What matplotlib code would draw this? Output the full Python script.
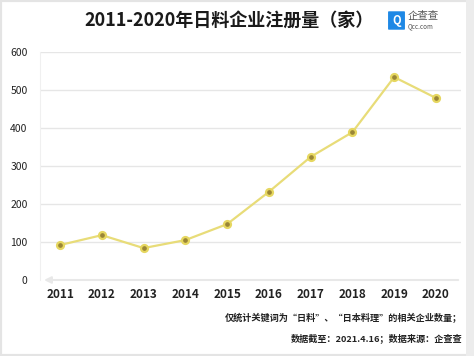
import matplotlib.pyplot as plt
from matplotlib.patches import FancyBboxPatch, Rectangle

plt.rcParams['font.family'] = ['Noto Sans CJK SC', 'DejaVu Sans']

# 数据
years = [2011, 2012, 2013, 2014, 2015, 2016, 2017, 2018, 2019, 2020]
counts = [92, 118, 84, 105, 147, 232, 324, 389, 534, 479]
yticks = [0, 100, 200, 300, 400, 500, 600]

W, H = 474, 356
fig = plt.figure(figsize=(W / 100, H / 100), dpi=100)
fig.patch.set_facecolor('white')

# 外框
fig.add_artist(Rectangle((0, 0), 1, 1, transform=fig.transFigure, fill=False,
                         edgecolor='#e4e4e4', linewidth=3))
fig.add_artist(Rectangle((466 / W, 0), 8 / W, 1, transform=fig.transFigure,
                         facecolor='#ececec', edgecolor='none'))

ax = fig.add_axes([40 / W, 76 / H, (461 - 40) / W, (280 - 52) / H])
ax.set_xlim(2010.52, 2020.6)
ax.set_ylim(0, 600)

for y in yticks[1:]:
    ax.axhline(y, color='#e6e6e6', linewidth=1, zorder=0)
ax.annotate('', xy=(2010.55, 0), xytext=(2020.6, 0),
            arrowprops=dict(arrowstyle='-|>', color='#e8e8e8', lw=1.5,
                            mutation_scale=10), zorder=0)

ax.plot(years, counts, color='#e8dc78', linewidth=1.6, marker='o',
        markersize=5, markerfacecolor='#9a8636', markeredgecolor='#e6d760',
        markeredgewidth=1.6, zorder=3)

for s in ['top', 'right', 'bottom']:
    ax.spines[s].set_visible(False)
ax.spines['left'].set_color('#f0f0f0')
ax.set_xticks(years)
ax.set_xticklabels([str(y) for y in years], fontsize=8.5, fontweight='bold',
                   color='#222222')
ax.set_yticks(yticks)
ax.set_yticklabels([str(y) for y in yticks], fontsize=7.5, color='#222222')
ax.tick_params(length=0, pad=6)
ax.tick_params(axis='y', pad=9)

# 标题
fig.text(229 / W, 1 - 20 / H, '2011-2020年日料企业注册量（家）', ha='center',
         va='center', fontsize=13, fontweight='bold', color='#1a1a1a')

# 企查查 标志
fig.add_artist(FancyBboxPatch((389 / W, 1 - 29 / H), 15 / W, 17 / H,
                              boxstyle='round,pad=0.002', transform=fig.transFigure,
                              facecolor='#1e88e5', edgecolor='none'))
fig.text(396.5 / W, 1 - 20.5 / H, 'Q', ha='center', va='center', fontsize=8,
         fontweight='bold', color='white')
fig.text(408 / W, 1 - 16 / H, '企查查', ha='left', va='center', fontsize=7.5,
         color='#555555')
fig.text(408 / W, 1 - 26 / H, 'Qcc.com', ha='left', va='center', fontsize=4.5,
         color='#555555')

# 注释
fig.text(462 / W, 1 - 318 / H, '仅统计关键词为“日料”、“日本料理”的相关企业数量；',
         ha='right', va='center', fontsize=6.6, fontweight='bold', color='#222222')
fig.text(462 / W, 1 - 338 / H, '数据截至：2021.4.16；数据来源：企查查',
         ha='right', va='center', fontsize=6.6, fontweight='bold', color='#222222')

fig.savefig('out.png', dpi=100)
